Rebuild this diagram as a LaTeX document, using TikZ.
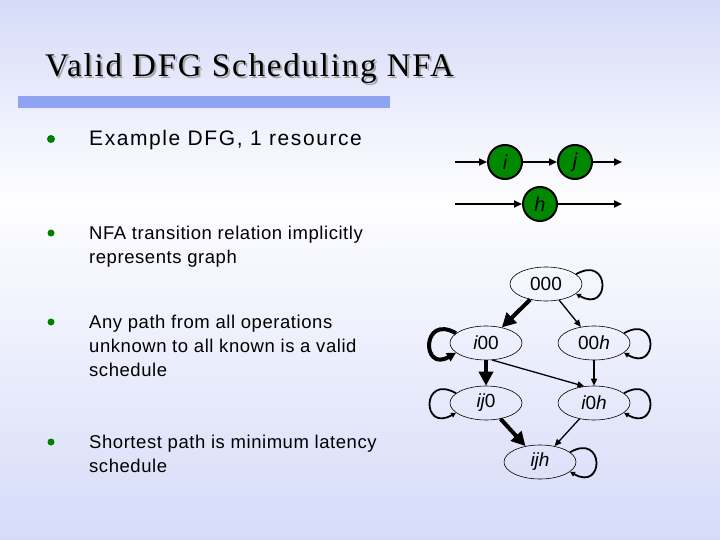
\documentclass[tikz,border=0pt]{standalone}
\usepackage{fontspec}
\setmainfont{Liberation Serif}
\setsansfont{Liberation Sans}
\newfontfamily\titlefont[LetterSpace=5.5]{Liberation Serif}
\newfontfamily\bigbullet[LetterSpace=7.5]{Liberation Sans}
\newfontfamily\smallbullet[LetterSpace=3]{Liberation Sans}
\usetikzlibrary{arrows.meta, shapes.geometric}
\definecolor{slideblue}{RGB}{214,219,248}
\definecolor{barblue}{RGB}{142,164,240}
\definecolor{dotgreen}{RGB}{0,128,0}
\definecolor{opgreen}{RGB}{0,136,0}

\begin{document}
\begin{tikzpicture}[x=1pt, y=-1pt,
        dot/.style={circle, fill=dotgreen, inner sep=0pt, minimum size=7pt},
        bullettext/.style={anchor=base west, inner sep=0pt, align=left},
        op/.style={circle, draw=black, line width=2pt, fill=opgreen, minimum size=34pt, inner sep=0pt, font=\sffamily\itshape\fontsize{20}{20}\selectfont},
        state/.style={ellipse, draw=black, line width=0.6pt, minimum width=72pt, minimum height=34pt, inner sep=0pt, font=\sffamily\fontsize{19}{19}\selectfont},
        dfgarr/.style={-{Triangle[length=8pt, width=7pt]}, line width=1.8pt},
        thin/.style={-{Triangle[length=7pt, width=6pt]}, line width=1.3pt},
        heavy/.style={-{Triangle[length=14pt, width=14pt]}, line width=4pt},
        selfloop/.style={-{Triangle[length=5pt, width=5pt]}, line width=1.8pt, min distance=40pt, looseness=1},
        heavyloop/.style={-{Triangle[length=9pt, width=9pt]}, line width=4pt, min distance=40pt, looseness=1}
      ]
        \useasboundingbox (0,0) rectangle (720,540);
        \shade[top color=slideblue, bottom color=white!97!slideblue] (0,0) rectangle (720,200);
        \shade[top color=white!97!slideblue, bottom color=slideblue] (0,199.5) rectangle (720,540);

        \node[anchor=base west, inner sep=0pt, text=black!35, font=\titlefont\fontsize{33}{33}\selectfont] at (47,79) {Valid DFG Scheduling NFA};
        \node[anchor=base west, inner sep=0pt, font=\titlefont\fontsize{33}{33}\selectfont] (title) at (45,77) {Valid DFG Scheduling NFA};
        \fill[barblue] (18,96) rectangle (390,108);

        \node[dot, minimum size=8pt] (d1) at (51,139) {};
        \node[dot] (d2) at (51,233) {};
        \node[dot] (d3) at (51,322) {};
        \node[dot] (d4) at (51,442) {};
        \node[bullettext, font=\bigbullet\fontsize{21}{24}\selectfont] (b1) at (89,146) {Example DFG, 1 resource};
        \node[bullettext, font=\smallbullet\fontsize{18.5}{24}\selectfont] (b2) at (89,263) {NFA transition relation implicitly\\represents graph};
        \node[bullettext, font=\smallbullet\fontsize{18.5}{24}\selectfont] (b3) at (89,376) {Any path from all operations\\unknown to all known is a valid\\schedule};
        \node[bullettext, font=\smallbullet\fontsize{18.5}{24}\selectfont] (b4) at (89,472) {Shortest path is minimum latency\\schedule};

        \node[op] (i) at (505,162) {i};
        \node[op] (j) at (575,162) {j};
        \node[op] (h) at (540,204) {h};
        \coordinate (iin) at (455,162);
        \coordinate (jout) at (622,162);
        \coordinate (hin) at (455,204);
        \coordinate (hout) at (622,204);
        \draw[dfgarr] (iin) -- (i);
        \draw[dfgarr] (i) -- (j);
        \draw[dfgarr] (j) -- (jout);
        \draw[dfgarr] (hin) -- (h);
        \draw[dfgarr] (h) -- (hout);

        \node[state] (s000) at (546,284) {000};
        \node[state] (si00) at (486,343) {{\itshape i}00};
        \node[state] (s00h) at (594,343) {00{\itshape h}};
        \node[state] (sij0) at (486,403) {{\itshape ij}0};
        \node[state] (si0h) at (594,403) {{\itshape i}0{\itshape h}};
        \node[state] (sijh) at (540,462) {{\itshape ijh}};

        \draw[heavy] (s000) -- (si00);
        \draw[thin] (s000) -- (s00h);
        \draw[heavy] (si00) -- (sij0);
        \draw[thin] (si00.290) -- (si0h.120);
        \draw[thin] (s00h) -- (si0h);
        \draw[heavy] (sij0) -- (sijh);
        \draw[thin] (si0h) -- (sijh);

        \draw[selfloop] (s000.18) to[out=30, in=-30] (s000.-18);
        \draw[heavyloop] (si00.162) to[out=150, in=-150] (si00.-162);
        \draw[selfloop] (s00h.18) to[out=30, in=-30] (s00h.-18);
        \draw[selfloop] (sij0.162) to[out=150, in=-150] (sij0.-162);
        \draw[selfloop] (si0h.18) to[out=30, in=-30] (si0h.-18);
        \draw[selfloop] (sijh.18) to[out=30, in=-30] (sijh.-18);
      \end{tikzpicture}
\end{document}
